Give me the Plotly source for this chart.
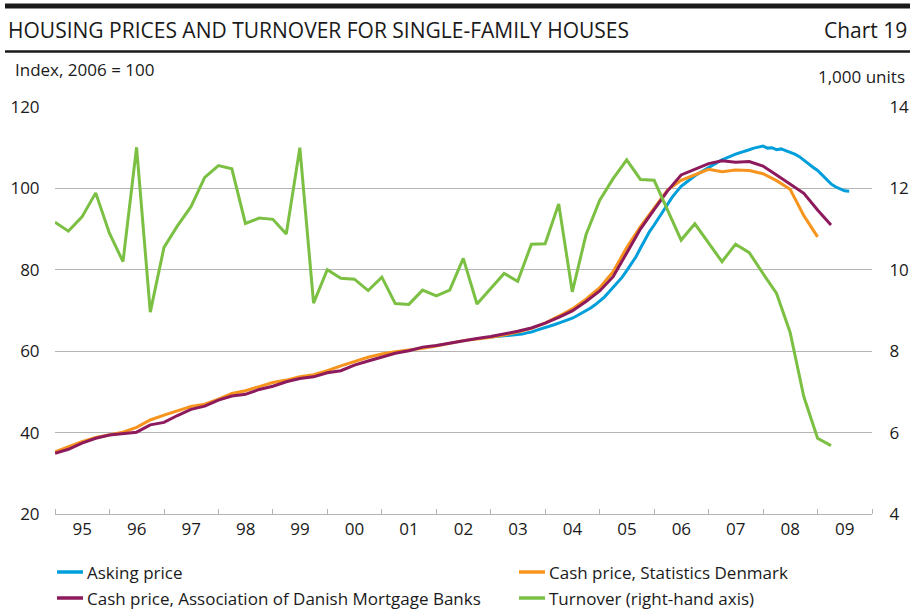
import plotly.graph_objects as go
import pandas as pd

# ---------------- data ----------------
quarters = pd.date_range("1995-01-01", periods=58, freq="QS")   # 1995Q1 .. 2009Q2
months = pd.date_range("2003-01-01", periods=80, freq="MS")     # Jan 2003 .. Aug 2009

# Turnover, 1,000 units (right-hand axis), quarterly
turnover = [11.17, 10.95, 11.30, 11.89, 10.90, 10.20, 13.01, 8.96, 10.55, 11.08,
            11.55, 12.27, 12.56, 12.48, 11.14, 11.27, 11.24, 10.88, 13.00, 9.18,
            10.00, 9.79, 9.77, 9.49, 9.82, 9.17, 9.15, 9.50, 9.36, 9.50,
            10.28, 9.16, 9.54, 9.91, 9.72, 10.63, 10.64, 11.62, 9.46, 10.86,
            11.71, 12.24, 12.70, 12.22, 12.20, 11.47, 10.73, 11.13, 10.67, 10.20,
            10.63, 10.42, 9.91, 9.42, 8.46, 6.88, 5.86, 5.68]

# Cash price, Association of Danish Mortgage Banks, index 2006=100, quarterly
cash_mortgage = [34.9, 35.9, 37.4, 38.6, 39.4, 39.8, 40.1, 41.9, 42.5, 44.2,
                 45.7, 46.5, 48.0, 49.0, 49.4, 50.6, 51.4, 52.5, 53.3, 53.7,
                 54.7, 55.2, 56.6, 57.6, 58.5, 59.5, 60.1, 61.0, 61.4, 62.0,
                 62.5, 63.1, 63.6, 64.2, 64.9, 65.7, 66.9, 68.3, 69.9, 72.2,
                 74.8, 78.3, 84.0, 90.0, 94.8, 99.4, 103.3, 104.8, 106.1, 106.8,
                 106.4, 106.6, 105.5, 103.3, 101.1, 98.8, 94.7, 91.0]

# Cash price, Statistics Denmark, index 2006=100, quarterly (to 2009Q1)
cash_sd = [35.3, 36.6, 37.8, 38.8, 39.4, 40.1, 41.3, 43.1, 44.3, 45.3,
           46.4, 47.0, 48.2, 49.6, 50.3, 51.3, 52.3, 52.9, 53.7, 54.2,
           55.2, 56.4, 57.4, 58.5, 59.3, 59.9, 60.3, 60.7, 61.3, 61.9,
           62.6, 63.0, 63.4, 64.0, 64.7, 65.6, 66.9, 68.6, 70.4, 72.8,
           75.6, 79.5, 85.5, 90.6, 95.3, 99.6, 102.0, 103.3, 104.7, 104.1,
           104.5, 104.4, 103.6, 101.9, 99.8, 93.3, 88.1]

# Asking price, index 2006=100, monthly
asking = [63.5, 63.6, 63.7, 63.8, 63.8, 63.9, 64.0, 64.2, 64.5, 64.7, 65.1, 65.4,
          65.8, 66.2, 66.5, 66.9, 67.3, 67.6, 68.1, 68.7, 69.3, 69.9, 70.6, 71.4,
          72.3, 73.3, 74.4, 75.6, 76.9, 78.2, 79.8, 81.4, 83.2, 85.3, 87.5, 89.4,
          91.0, 92.8, 94.5, 96.2, 97.8, 99.2, 100.5, 101.4, 102.3, 103.1, 103.8, 104.5,
          105.2, 105.8, 106.4, 107.0, 107.5, 108.0, 108.4, 108.8, 109.1, 109.5, 109.9, 110.2,
          110.4, 109.9, 110.0, 109.5, 109.7, 109.3, 108.9, 108.4, 107.8, 106.9, 106.0, 105.2,
          104.4, 103.2, 102.1, 101.1, 100.4, 99.8, 99.4, 99.3]

names = ["Asking price", "Cash price, Statistics Denmark",
         "Cash price, Association of Danish Mortgage Banks", "Turnover (right-hand axis)"]
colors = ["#009edb", "#f7941d", "#8c1a5c", "#7bc043"]

# ---------------- layout geometry (pixels) ----------------
W, H = 919, 610
L, R, T, B = 55, 47, 107, 96
PW, PH = W - L - R, H - T - B


def px(x):
    return (x - L) / PW


def py(y):
    return (H - B - y) / PH


FONT = "Open Sans"
TXT = "#1a1a1a"
GRID = "#b4b4b4"
FS = 17

fig = go.Figure()
fig.add_trace(go.Scatter(x=months, y=asking, name=names[0], mode="lines",
                         line=dict(color=colors[0], width=3)))
fig.add_trace(go.Scatter(x=quarters[:len(cash_sd)], y=cash_sd, name=names[1], mode="lines",
                         line=dict(color=colors[1], width=3)))
fig.add_trace(go.Scatter(x=quarters, y=cash_mortgage, name=names[2], mode="lines",
                         line=dict(color=colors[2], width=3)))
fig.add_trace(go.Scatter(x=quarters, y=turnover, name=names[3], mode="lines", yaxis="y2",
                         line=dict(color=colors[3], width=3)))

fig.update_layout(
    width=W, height=H,
    margin=dict(l=L, r=R, t=T, b=B, pad=0, autoexpand=False),
    paper_bgcolor="white", plot_bgcolor="white",
    font=dict(family=FONT, size=FS, color=TXT),
    showlegend=False,
    xaxis=dict(type="date", range=["1995-01-01", "2010-01-01"],
               tick0="1995-01-01", dtick="M12", tickformat="%y", ticklabelmode="period",
               ticks="inside", ticklen=5, tickcolor=GRID, tickwidth=1,
               showline=True, linecolor=GRID, linewidth=1, showgrid=False, zeroline=False,
               tickfont=dict(size=FS, color=TXT)),
    yaxis=dict(range=[20, 120], dtick=20, showgrid=True, gridcolor=GRID, gridwidth=1,
               zeroline=False, showline=False, ticks="outside", ticklen=11,
               tickcolor="rgba(0,0,0,0)", tickfont=dict(size=FS, color=TXT)),
    yaxis2=dict(range=[4, 14], dtick=2, overlaying="y", side="right", showgrid=False,
                zeroline=False, showline=False, ticks="outside", ticklen=13,
                tickcolor="rgba(0,0,0,0)", tickfont=dict(size=FS, color=TXT)),
)

shapes = [
    dict(type="rect", xref="paper", yref="paper", x0=px(5), x1=px(910), y0=py(8.5), y1=py(3.5),
         fillcolor="#1a1a1a", line=dict(width=0)),
    dict(type="line", xref="paper", yref="paper", x0=px(5), x1=px(910), y0=py(51.5), y1=py(51.5),
         line=dict(color="#1a1a1a", width=2.5)),
]

ann = [
    dict(text="HOUSING PRICES AND TURNOVER FOR SINGLE-FAMILY HOUSES", x=px(6), y=py(30),
         xanchor="left", yanchor="middle", font=dict(size=21, color=TXT)),
    dict(text="Chart 19", x=px(909), y=py(30), xanchor="right", yanchor="middle",
         font=dict(size=21, color=TXT)),
    dict(text="Index, 2006 = 100", x=px(13), y=py(69), xanchor="left", yanchor="middle",
         font=dict(size=FS, color=TXT)),
    dict(text="1,000 units", x=px(907), y=py(76), xanchor="right", yanchor="middle",
         font=dict(size=FS, color=TXT)),
]

# manual legend: 2 columns x 2 rows
leg_pos = [(57, 572), (519, 572), (57, 598), (519, 598)]
for (lx, ly), nm, col in zip(leg_pos, names, colors):
    shapes.append(dict(type="line", xref="paper", yref="paper", x0=px(lx), x1=px(lx + 26),
                       y0=py(ly), y1=py(ly), line=dict(color=col, width=3.5)))
    ann.append(dict(text=nm, x=px(lx + 28), y=py(ly), xanchor="left", yanchor="middle",
                    font=dict(size=FS, color=TXT)))

for a in ann:
    a.update(xref="paper", yref="paper", showarrow=False)
fig.update_layout(shapes=shapes, annotations=ann)

fig.write_html("out.html", config={"displayModeBar": False},
               post_script="document.body.style.margin='0';")
